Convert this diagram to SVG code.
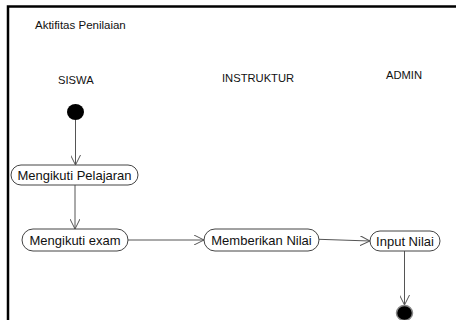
<svg xmlns="http://www.w3.org/2000/svg" width="456" height="320" viewBox="0 0 456 320">
<style>
.t{font-family:"Liberation Sans",Arial,sans-serif;fill:#111}
.lane{font-size:11.2px}
.nt{font-size:13px;text-anchor:middle}
.act{fill:#fff;stroke:#444;stroke-width:1}
.c{fill:none;stroke:#555;stroke-width:1}
.ah{fill:none;stroke:#555;stroke-width:1}
</style>
<defs>
<marker id="arr" viewBox="0 0 10 10" refX="10" refY="5" markerWidth="10" markerHeight="10" markerUnits="userSpaceOnUse" orient="auto">
<path d="M0,0 L10,5 L0,10" class="ah"/>
</marker>
</defs>
<rect width="456" height="320" fill="#fff"/>
<path d="M8,320 L8,6.5 L456,6.5" fill="none" stroke="#000" stroke-width="2.5"/>
<text class="t" x="35" y="29" font-size="11.5">Aktifitas Penilaian</text>
<text class="t lane" x="58" y="84">SISWA</text>
<text class="t lane" x="222" y="82">INSTRUKTUR</text>
<text class="t lane" x="386" y="79">ADMIN</text>
<g id="connectors">
<path class="c" d="M75.5,120 L75.5,165" marker-end="url(#arr)"/>
<path class="c" d="M75,185 L75,229" marker-end="url(#arr)"/>
<path class="c" d="M128,240 L204,240" marker-end="url(#arr)"/>
<path class="c" d="M319,239.3 L370,241" marker-end="url(#arr)"/>
<path class="c" d="M404.5,251 L404.5,305" marker-end="url(#arr)"/>
</g>
<g id="start"><ellipse cx="75.5" cy="112" rx="8.5" ry="8" fill="#000"/></g>
<g id="mengikuti-pelajaran"><rect class="act" x="11" y="165" width="127" height="20" rx="10"/><text class="t nt" x="74.5" y="179.6">Mengikuti Pelajaran</text></g>
<g id="mengikuti-exam"><rect class="act" x="22" y="229" width="106" height="22" rx="11"/><text class="t nt" x="75" y="244.6">Mengikuti exam</text></g>
<g id="memberikan-nilai"><rect class="act" x="204" y="229" width="115" height="22" rx="11"/><text class="t nt" x="261.5" y="244.6">Memberikan Nilai</text></g>
<g id="input-nilai"><rect class="act" x="370" y="231" width="70" height="20" rx="10"/><text class="t nt" x="405" y="245.6">Input Nilai</text></g>
<g id="end"><ellipse cx="404.5" cy="313" rx="8" ry="7.5" fill="#000" stroke="#888" stroke-width="1.5"/></g>
</svg>
